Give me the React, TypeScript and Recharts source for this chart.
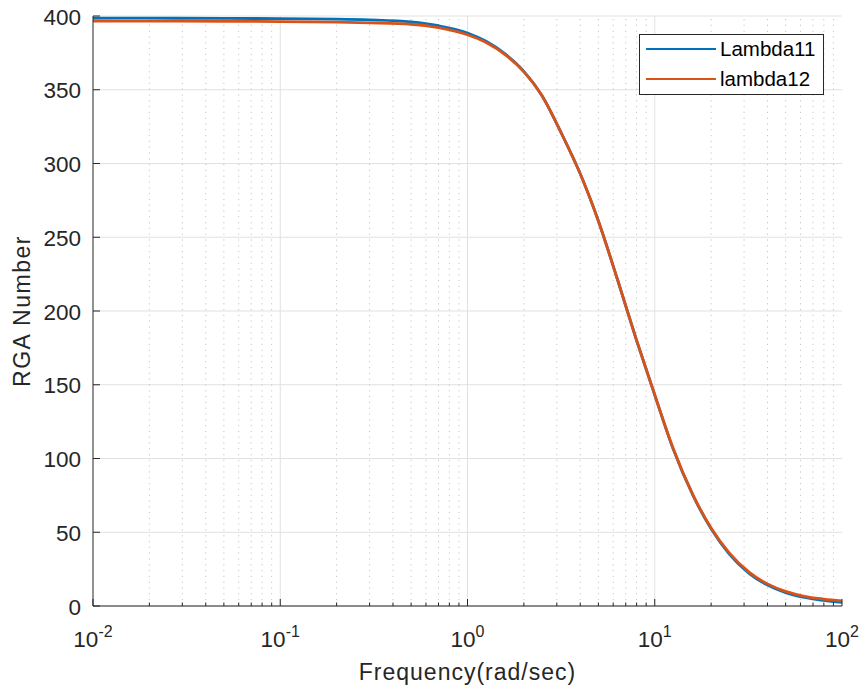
import React from 'react';
import { LineChart, Line, XAxis, YAxis, CartesianGrid, ReferenceLine, Legend } from 'recharts';

// ---- data ----
const frequency = [0.01, 0.02, 0.05, 0.1, 0.2, 0.3, 0.5, 0.7, 1, 1.25, 1.6, 2, 2.5, 3.2, 4, 5, 6.3, 8, 10, 12.5, 16, 20, 25, 32, 40, 50, 63, 80, 100];
const lambda11 = [398.6, 398.5, 398.4, 398.2, 397.9, 397.4, 396, 393.4, 388.5, 383, 374, 362.5, 346, 319.5, 293, 261, 222, 180, 143, 107, 75, 52.3, 35.2, 22, 14.2, 9.1, 5.8, 3.8, 2.4];
const lambda12 = [396.6, 396.5, 396.4, 396.2, 395.9, 395.4, 394.4, 392.1, 387.3, 382.2, 373.5, 362.1, 345.9, 319.5, 293, 261, 222, 180.1, 143.2, 107.3, 75.4, 52.9, 36, 22.8, 15, 9.9, 6.6, 4.7, 3.4];

const majorXTicks = [0.01, 0.1, 1, 10, 100];
const majorXExponents = ['-2', '-1', '0', '1', '2'];
const minorXTicks = [
  0.02, 0.03, 0.04, 0.05, 0.06, 0.07, 0.08, 0.09,
  0.2, 0.3, 0.4, 0.5, 0.6, 0.7, 0.8, 0.9,
  2, 3, 4, 5, 6, 7, 8, 9,
  20, 30, 40, 50, 60, 70, 80, 90,
];
const yTicks = [0, 50, 100, 150, 200, 250, 300, 350, 400];
const seriesNames = ['Lambda11', 'lambda12'];
const seriesColors = ['#0072BD', '#D95319'];
const xLabel = 'Frequency(rad/sec)';
const yLabel = 'RGA Number';

const data = frequency.map((f, i) => ({ f, l11: lambda11[i], l12: lambda12[i] }));
const allXTicks = [...majorXTicks, ...minorXTicks].sort((a, b) => a - b);
const innerMajorXTicks = majorXTicks.slice(1, -1);

const FONT = '"Liberation Sans", Arial, Helvetica, sans-serif';
const AXIS = '#262626';
const GRID = '#e1e1e1';
const MINOR_GRID = '#c4c4c4';
const MAJOR_LEN = 7;
const MINOR_LEN = 3.5;

const BottomTick = (props: any) => {
  const { x, y, payload } = props;
  const v = payload.value;
  const idx = majorXTicks.indexOf(v);
  const isMajor = idx >= 0;
  const len = isMajor ? MAJOR_LEN : MINOR_LEN;
  return (
    <g>
      <line x1={x} x2={x} y1={y} y2={y - len} stroke={AXIS} strokeWidth={1} />
      {isMajor && (
        <text x={x} y={y + 41} textAnchor="middle" fontFamily={FONT} fontSize={22.5} fill={AXIS}>
          <tspan>10</tspan>
          <tspan dy={-10} fontSize={16}>{majorXExponents[idx]}</tspan>
        </text>
      )}
    </g>
  );
};

const TopTick = (props: any) => {
  const { x, y, payload } = props;
  const isMajor = majorXTicks.indexOf(payload.value) >= 0;
  const len = isMajor ? MAJOR_LEN : MINOR_LEN;
  return <line x1={x} x2={x} y1={y} y2={y + len} stroke={AXIS} strokeWidth={1} />;
};

const LeftTick = (props: any) => {
  const { x, y, payload } = props;
  return (
    <g>
      <line x1={x} x2={x + MAJOR_LEN} y1={y} y2={y} stroke={AXIS} strokeWidth={1} />
      <text x={x - 12} y={y + 8.5} textAnchor="end" fontFamily={FONT} fontSize={22.5} fill={AXIS}>
        {payload.value}
      </text>
    </g>
  );
};

const RightTick = (props: any) => {
  const { x, y } = props;
  return <line x1={x} x2={x - MAJOR_LEN} y1={y} y2={y} stroke={AXIS} strokeWidth={1} />;
};

const LegendBox = (props: any) => {
  const { payload } = props;
  return (
    <div
      style={{
        position: 'relative',
        width: 185,
        height: 61,
        boxSizing: 'border-box',
        border: `1px solid ${AXIS}`,
        background: '#ffffff',
        fontFamily: FONT,
        fontSize: 20.5,
        color: '#000',
      }}
    >
      {(payload || []).map((p: any, i: number) => (
        <div key={i}>
          <div
            style={{
              position: 'absolute',
              left: 6,
              top: 14 + i * 30 - 1.4,
              width: 70,
              height: 2.8,
              background: p.color,
            }}
          />
          <div
            style={{
              position: 'absolute',
              left: 80,
              top: 14 + i * 30 - 12,
              lineHeight: '24px',
              whiteSpace: 'nowrap',
            }}
          >
            {p.value}
          </div>
        </div>
      ))}
    </div>
  );
};

export default function App() {
  return (
    <div style={{ position: 'absolute', left: 0, top: 0, width: 861, height: 687, background: '#fff' }}>
      <LineChart width={861} height={687} data={data} margin={{ top: 16, right: 19, left: 0, bottom: 0 }}>
        <CartesianGrid xAxisId="bottom" yAxisId="left" vertical={false} horizontal stroke={GRID} strokeWidth={1} />
        {minorXTicks.map((v) => (
          <ReferenceLine key={'m' + v} x={v} xAxisId="bottom" yAxisId="left" stroke={MINOR_GRID} strokeWidth={1} strokeDasharray="1.2 4.6" />
        ))}
        {innerMajorXTicks.map((v) => (
          <ReferenceLine key={'M' + v} x={v} xAxisId="bottom" yAxisId="left" stroke={GRID} strokeWidth={1} />
        ))}
        <XAxis
          xAxisId="bottom"
          dataKey="f"
          type="number"
          scale="log"
          domain={[0.01, 100]}
          allowDataOverflow
          ticks={allXTicks}
          interval={0}
          tickSize={0}
          tickMargin={0}
          tick={BottomTick}
          height={81}
          axisLine={{ stroke: AXIS, strokeWidth: 1 }}
          label={{ value: xLabel, position: 'insideBottom', offset: 7, style: { fontFamily: FONT, fontSize: 23, fill: AXIS, letterSpacing: 1 } }}
        />
        <XAxis
          xAxisId="top"
          orientation="top"
          dataKey="f"
          type="number"
          scale="log"
          domain={[0.01, 100]}
          allowDataOverflow
          ticks={allXTicks}
          interval={0}
          tickSize={0}
          tickMargin={0}
          tick={TopTick}
          height={0}
          axisLine={{ stroke: AXIS, strokeWidth: 1 }}
        />
        <YAxis
          yAxisId="left"
          type="number"
          domain={[0, 400]}
          allowDataOverflow
          ticks={yTicks}
          interval={0}
          tickSize={0}
          tickMargin={0}
          tick={LeftTick}
          width={93}
          axisLine={{ stroke: AXIS, strokeWidth: 1 }}
          label={{ value: yLabel, angle: -90, position: 'insideLeft', offset: 22, style: { fontFamily: FONT, fontSize: 23, fill: AXIS, textAnchor: 'middle', letterSpacing: 1.5 } }}
        />
        <YAxis
          yAxisId="right"
          orientation="right"
          type="number"
          domain={[0, 400]}
          allowDataOverflow
          ticks={yTicks}
          interval={0}
          tickSize={0}
          tickMargin={0}
          tick={RightTick}
          width={0}
          axisLine={{ stroke: AXIS, strokeWidth: 1 }}
        />
        <Legend
          layout="horizontal"
          align="center"
          verticalAlign="middle"
          content={LegendBox}
          wrapperStyle={{ left: 639, top: 34, width: 185, height: 61, right: 'auto', bottom: 'auto' }}
        />
        <Line
          xAxisId="bottom"
          yAxisId="left"
          type="monotone"
          dataKey="l11"
          name={seriesNames[0]}
          stroke={seriesColors[0]}
          strokeWidth={2.8}
          dot={false}
          isAnimationActive={false}
        />
        <Line
          xAxisId="bottom"
          yAxisId="left"
          type="monotone"
          dataKey="l12"
          name={seriesNames[1]}
          stroke={seriesColors[1]}
          strokeWidth={2.8}
          dot={false}
          isAnimationActive={false}
        />
      </LineChart>
    </div>
  );
}
